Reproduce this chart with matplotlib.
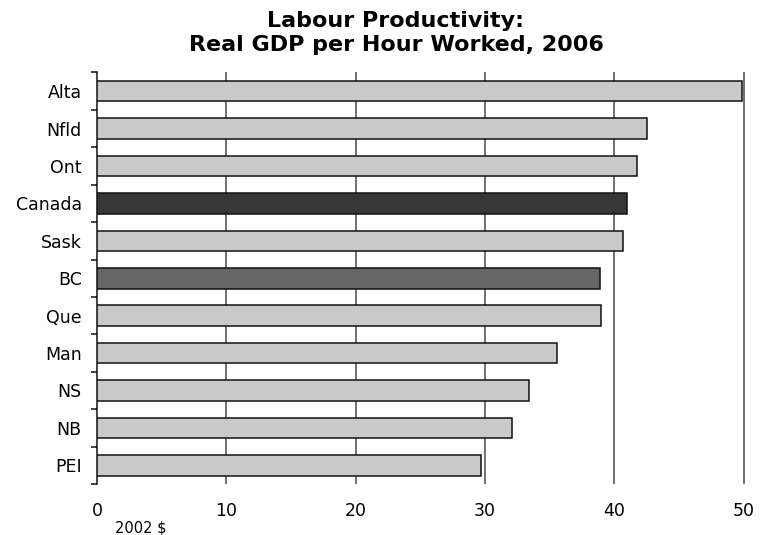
import matplotlib.pyplot as plt
import numpy as np

# Real GDP per hour worked, 2006 (2002 dollars)
provinces = ['Alta', 'Nfld', 'Ont', 'Canada', 'Sask', 'BC', 'Que', 'Man', 'NS', 'NB', 'PEI']
gdp_per_hour = [49.9, 42.5, 41.8, 41.0, 40.7, 38.9, 39.0, 35.6, 33.4, 32.1, 29.7]
bar_colors = ['#c9c9c9', '#c9c9c9', '#c9c9c9', '#363636', '#c9c9c9', '#666666',
              '#c9c9c9', '#c9c9c9', '#c9c9c9', '#c9c9c9', '#c9c9c9']
x_ticks = [0, 10, 20, 30, 40, 50]

fig = plt.figure(figsize=(7.6, 5.35), dpi=100)
ax = fig.add_axes([0.1276, 0.0953, 0.8524, 0.7692])

ypos = np.arange(len(provinces))
ax.barh(ypos, gdp_per_hour, height=0.55, color=bar_colors,
        edgecolor='#111111', linewidth=1.1, zorder=3)

ax.set_xlim(0, 50.1)
ax.set_ylim(len(provinces) - 0.5, -0.5)

# vertical gridlines behind the bars
for x in x_ticks[1:]:
    ax.axvline(x, color='#4a4a4a', linewidth=1.1, zorder=1)

ax.set_xticks(x_ticks)
ax.set_xticklabels([str(v) for v in x_ticks])
ax.tick_params(axis='x', length=0, pad=13, labelsize=12.5)

ax.set_yticks(ypos)
ax.set_yticklabels(provinces)
ax.tick_params(axis='y', which='major', length=0, pad=11, labelsize=12.5)
ax.set_yticks(np.arange(len(provinces) + 1) - 0.5, minor=True)
ax.tick_params(axis='y', which='minor', length=4, width=1.1, color='#111111')

for side in ['top', 'right', 'bottom']:
    ax.spines[side].set_visible(False)
ax.spines['left'].set_linewidth(1.1)
ax.spines['left'].set_color('#111111')

fig.text(0.521, 0.98, 'Labour Productivity:\nReal GDP per Hour Worked, 2006',
         ha='center', va='top', fontsize=16, fontweight='bold', linespacing=1.25)
fig.text(0.1513, 0.013, '2002 $', ha='left', va='center', fontsize=10.5)

plt.savefig('out.png', dpi=100)
